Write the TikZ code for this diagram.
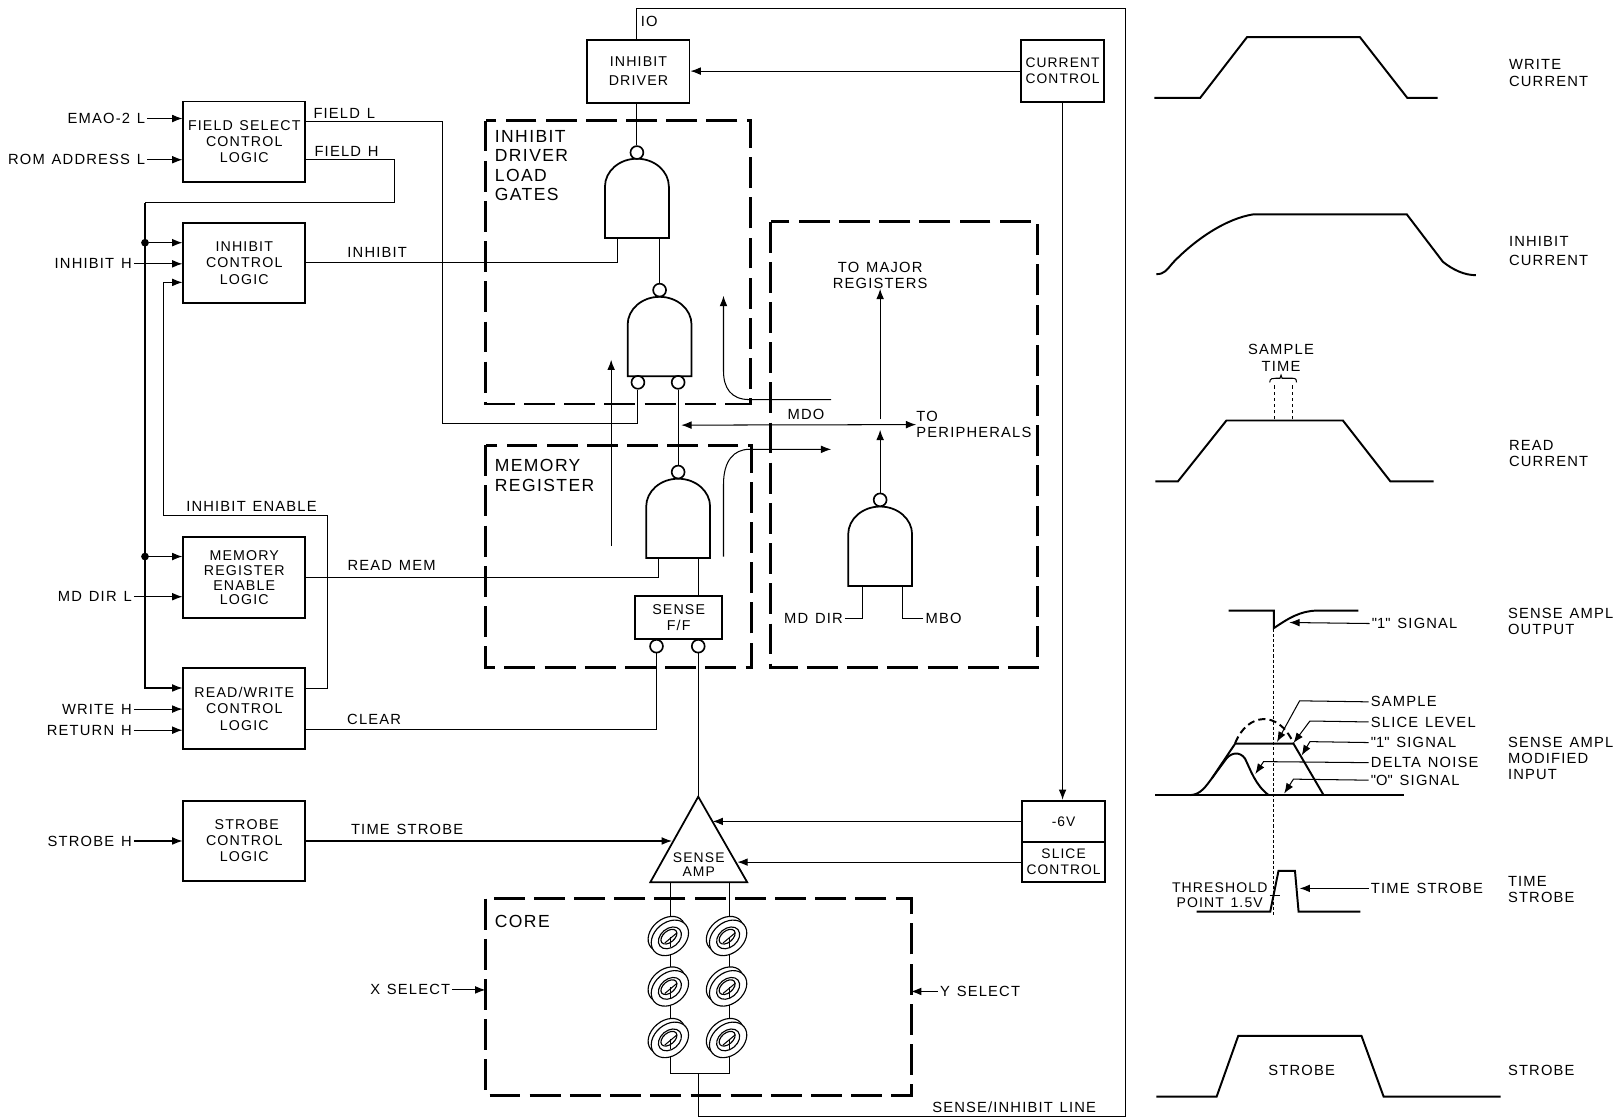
\documentclass[tikz,border=0pt]{standalone}
\usepackage{fontspec}
\setmainfont{Liberation Sans}[LetterSpace=8, WordSpace=1.3]
\newfontfamily\quotefont{Liberation Sans}
\newcommand{\dq}{{\quotefont"}}
\usepackage{tikz}
\usetikzlibrary{arrows.meta, positioning}

\tikzset{
    nandgate/.pic={
        \draw [gateline, fill=white] (-31,0) -- (-31,-50) arc [start angle=180, end angle=360, x radius=31, y radius=27] -- (31,0) -- cycle;
    },
    corering/.pic={
        \draw [ringline, fill=white, rotate=40] (0,-5) ellipse [x radius=20, y radius=14.5];
        \draw [ringline, fill=white, rotate=40] (0,0) ellipse [x radius=20, y radius=15];
        \draw [ringline, fill=white, rotate=40] (0,0) ellipse [x radius=12.5, y radius=9];
        \draw [ringline, rotate=40] (0,-1.5) ellipse [x radius=9, y radius=5.5];
        \draw [wire] (1,-1) -- (1,9);
        \draw [wire] (-5,5) -- (7,-5);
    }
}

\begin{document}
\begin{tikzpicture}[x=1pt, y=-1pt,
    logicbox/.style={rectangle, draw=black, line width=1.9pt, minimum width=118pt, minimum height=78pt, inner sep=0pt, align=center, font=\fontsize{13.8}{15.5}\selectfont},
    ctrlbox/.style={logicbox, minimum width=81pt, font=\fontsize{13.4}{15.5}\selectfont},
    txt/.style={inner sep=2pt, align=left, font=\fontsize{14.3}{15.5}\selectfont},
    bigtxt/.style={inner sep=0pt, anchor=north west, align=left, font=\fontsize{17}{19}\selectfont},
    wire/.style={draw=black, line width=1pt},
    arrow/.style={wire, -{Latex[length=10pt, width=7.5pt]}},
    both/.style={wire, {Latex[length=10pt, width=7.5pt]}-{Latex[length=10pt, width=7.5pt]}},
    gateline/.style={draw=black, line width=1.7pt},
    ringline/.style={draw=black, line width=1.1pt},
    bubble/.style={circle, draw=black, fill=white, line width=1.6pt, minimum size=12.5pt, inner sep=0pt},
    dot/.style={circle, fill=black, minimum size=7.5pt, inner sep=0pt},
    dashbox/.style={draw=black, line width=2.8pt, dash pattern=on 30pt off 9pt},
    wave/.style={draw=black, line width=1.9pt, line join=miter}]

    \useasboundingbox (0,0) rectangle (1568,1086);

    % logic blocks on the left
    \node [logicbox] (fieldsel) at (237,137.5) {FIELD SELECT\\CONTROL\\LOGIC};
    \node [logicbox, below of=fieldsel, node distance=117.5pt] (inhctl) {INHIBIT\\[.5pt]CONTROL\\[.5pt]LOGIC};
    \node [logicbox, below of=inhctl, node distance=305.5pt] (mregen) {MEMORY\\[-1pt]REGISTER\\[-1pt]ENABLE\\[-1pt]LOGIC};
    \node [logicbox, below of=mregen, node distance=127pt] (rwctl) {READ/WRITE\\[.5pt]CONTROL\\[.5pt]LOGIC};
    \node [logicbox, below of=rwctl, node distance=128.5pt] (strobe) {\hspace*{5pt}STROBE\\CONTROL\\LOGIC};

    % inputs
    \node [txt, anchor=east] (emao) at (143,115) {EMAO-2 L};
    \node [txt, anchor=east] (romaddr) at (143,155) {ROM ADDRESS L};
    \node [txt, anchor=east] (inhh) at (130,256) {INHIBIT H};
    \node [txt, anchor=east] (mddirl) at (130,579) {MD DIR L};
    \node [txt, anchor=east] (writeh) at (130,688) {WRITE H};
    \node [txt, anchor=east] (returnh) at (130,708.5) {RETURN H};
    \node [txt, anchor=east] (strobeh) at (130,816) {STROBE H};
    \draw [arrow] (emao) -- (emao -| fieldsel.west);
    \draw [arrow] (romaddr) -- (romaddr -| fieldsel.west);
    \draw [arrow] (inhh) -- (inhh -| inhctl.west);
    \draw [arrow] (mddirl) -- (mddirl -| mregen.west);
    \draw [arrow] (writeh) -- (writeh -| rwctl.west);
    \draw [arrow] (returnh) -- (returnh -| rwctl.west);
    \draw [arrow] (strobeh) -- (strobeh -| strobe.west);

    % driver and control boxes
    \node [logicbox, minimum width=99pt, minimum height=61pt] (inhdrv) at (619.5,69) {INHIBIT\\[2.5pt]DRIVER};
    \node [ctrlbox, minimum height=60pt] (curctl) at (1031,69) {CURRENT\\CONTROL};
    \node [ctrlbox, minimum height=40pt] (minus) at (1032,797) {-6V};
    \node [ctrlbox, minimum height=39pt] (slice) at (1032,836.5) {SLICE\\CONTROL};
    \node [logicbox, minimum width=84pt, minimum height=41.5pt] (sensefl) at (658.5,599.5) {SENSE\\F/F};

    % named turning points
    \coordinate (fieldturn) at (429,411);
    \coordinate (fieldhturn) at (383,196.6);
    \coordinate (bus) at (140.7,196.6);
    \coordinate (enableturn) at (318,500);
    \coordinate (enableleft) at (159,500);
    \coordinate (loopne) at (1092,8);
    \coordinate (loopse) at (1092,1083);
    \coordinate (coreout) at (677.5,1042);
    \coordinate (wirel) at (651,856);
    \coordinate (wirer) at (708,856);
    \coordinate (ampapex) at (677.5,773);
    \coordinate (ampleft) at (631,856);
    \coordinate (ampright) at (725,856);
    \coordinate (ampin) at (652,816);
    \coordinate (amptop) at (691.5,797);
    \coordinate (ampbot) at (715.5,836.5);

    % gates with their bubbles
    \pic at (618,231) {nandgate};
    \pic at (640,365) {nandgate};
    \pic at (658,541.5) {nandgate};
    \pic at (854,568.5) {nandgate};
    \node [bubble] (goneo) at (618,148) {};
    \node [bubble] (gtwoo) at (640,281.5) {};
    \node [bubble] (gtwoa) at (619,371) {};
    \node [bubble] (gtwob) at (658,371) {};
    \node [bubble] (gthreeo) at (658,458) {};
    \node [bubble] (gfouro) at (854,485) {};
    \node [bubble] (ffa) at (637,627) {};
    \node [bubble] (ffb) at (677.5,627) {};
    \coordinate (goneb) at (640,231);
    \coordinate (gonea) at (599,231);
    \coordinate (gthreea) at (639,541.5);
    \coordinate (gthreeb) at (677.5,541.5);
    \coordinate (gfoura) at (836.5,568.5);
    \coordinate (gfourb) at (876,568.5);

    % dashed groups
    \draw [dashbox] (471.5,117) rectangle (728,392);
    \draw [dashbox] (471.5,432) rectangle (729,648);
    \draw [dashbox] (748,215) rectangle (1006.5,648);
    \draw [dashbox] (471,872) rectangle (884,1063);
    \node [bigtxt] (loadlbl) at (480,126) {INHIBIT\\DRIVER\\LOAD\\GATES};
    \node [bigtxt] (mreglbl) at (480,445.5) {MEMORY\\REGISTER};
    \node [bigtxt] (corelbl) at (480,888) {CORE};

    % signal lines
    \draw [wire] (goneo |- inhdrv.north) |- (loopne) -- (loopse) -| (coreout);
    \draw [wire] (inhdrv.south -| goneo) -- (goneo);
    \draw [wire] (goneb) -- (gtwoo);
    \draw [wire] (inhctl.east) -| (gonea);
    \draw [wire] ([yshift=19.5pt]fieldsel.east) -| (fieldturn) -| (gtwoa);
    \draw [wire] ([yshift=-17.5pt]fieldsel.east) -| (fieldhturn) -- (bus);
    \draw [arrow] (bus) |- ([yshift=-20pt]rwctl.north west);
    \draw [arrow] ([yshift=19pt]rwctl.east) -| (enableturn) -- (enableleft) |- ([yshift=-19pt]inhctl.west);
    \draw [wire] (gtwob) -- (gthreeo);
    \draw [wire] (mregen.east) -| (gthreea);
    \draw [wire] (gthreeb) -- (gthreeb |- sensefl.north);
    \draw [wire] (ffa) |- ([yshift=-20pt]rwctl.east);
    \draw [wire] (ffb) -- (ampapex);
    \draw [arrow] (strobe.east) -- (strobe.east -| ampin);
    \draw [arrow] (minus.west) -- (amptop);
    \draw [arrow] (slice.west) -- (ampbot);
    \draw [arrow] (curctl.west) -- (inhdrv.east);
    \draw [arrow] (curctl.south) -- (curctl.south |- minus.north);

    \node [dot] (dota) at (140.7,235.5) {};
    \node [dot] (dotb) at (140.7,540) {};
    \draw [arrow] (dota) -- (dota -| inhctl.west);
    \draw [arrow] (dotb) -- (dotb -| mregen.west);

    % sense amp and core
    \draw [gateline, fill=white, line join=miter] (ampapex) -- (ampright) -- (ampleft) -- cycle;
    \node [txt, align=center, font=\fontsize{13.5}{13.5}\selectfont] (amplbl) at (678,839) {SENSE\\AMP};
    \draw [wire] (wirel) -- (wirel |- coreout) -- (wirer |- coreout) -- (wirer);
    \foreach \ypos in {910,959,1009} {
        \pic at (650,\ypos) {corering};
        \pic at (706.5,\ypos) {corering};
    }

    % free signal runs
    \coordinate (arrowa) at (593,530);
    \coordinate (arrowatip) at (593,349);
    \coordinate (loadend) at (806.5,387.7);
    \coordinate (loadtip) at (702,287);
    \coordinate (mregbot) at (702,540);
    \coordinate (mregend) at (806.5,436);
    \coordinate (mdoleft) at (661,412.5);
    \coordinate (majorbase) at (854,407);
    \coordinate (mdojoin) at (854,417);
    \draw [arrow] (arrowa) -- (arrowatip);
    \draw [arrow] (loadend) -- (727,387.7) .. controls (709,387.7) and (702,376) .. (702,360) -- (loadtip);
    \draw [arrow] (mregbot) -- (702,470) .. controls (702,447) and (712,436) .. (727,436) -- (mregend);
    \node [txt, anchor=west, inner sep=0pt] (periph) at (889,412) {TO\\PERIPHERALS};
    \node [txt] (mdolbl) at (782,402.5) {MDO};
    \draw [both] (mdoleft) -- (periph.west);
    \node [txt, align=center, inner sep=0pt] (major) at (854,267) {TO MAJOR\\[.5pt]REGISTERS};
    \draw [arrow] (majorbase) -- (major.south);
    \draw [arrow] (gfouro) -- (mdojoin);

    \node [txt, anchor=east] (mddirlbl) at (820,600) {MD DIR};
    \node [txt, anchor=west] (mbolbl) at (896,600) {MBO};
    \draw [wire] (mddirlbl.east) -| (gfoura);
    \draw [wire] (mbolbl.west) -| (gfourb);

    \node [txt, anchor=east] (xsel) at (439,960.5) {X SELECT};
    \node [txt, anchor=west] (ysel) at (910,962) {Y SELECT};
    \coordinate (corewest) at (471,960.5);
    \coordinate (coreeast) at (884,962);
    \draw [arrow] (xsel.east) -- (corewest);
    \draw [arrow] (ysel.west) -- (coreeast);

    % labels on the lines
    \node [txt, anchor=west] (fieldl) at (302,110) {FIELD L};
    \node [txt, anchor=west] (fieldh) at (303,147) {FIELD H};
    \node [txt] (inhlbl) at (366,245) {INHIBIT};
    \node [txt] (enablbl) at (244,491) {INHIBIT ENABLE};
    \node [txt] (readlbl) at (380,549) {READ MEM};
    \node [txt] (clearlbl) at (363,698) {CLEAR};
    \node [txt] (tstrobelbl) at (395,805) {TIME STROBE};
    \node [txt] (iolbl) at (630,21) {IO};
    \node [txt] (senselbl) at (984,1074) {SENSE/INHIBIT LINE};

    % waveforms
    \draw [wave] (1120,95) -- (1164.5,95) -- (1210,36) -- (1319.5,36) -- (1365.5,95) -- (1395,95);
    \draw [wave] (1122,266) .. controls (1130,266) and (1132,262) .. (1138,255) .. controls (1160,232) and (1190,212) .. (1216,208) -- (1365,208) -- (1400,254) .. controls (1410,262) and (1421,267) .. (1432,267);
    \draw [wave] (1121,467) -- (1143,467) -- (1190,408) -- (1303,408) -- (1349,467) -- (1391,467);
    \draw [wire, dashed] (1237,407) -- (1237,372);
    \draw [wire, dashed] (1254.5,407) -- (1254.5,372);
    \draw [wire] (1232,371) .. controls (1232,367) and (1235,367) .. (1238,367) -- (1242,367) -- (1243,364) -- (1244,367) -- (1254,367) .. controls (1258,367) and (1258,369) .. (1258,371);
    \draw [wave] (1192,592.5) -- (1236,592.5) -- (1236,609.5) .. controls (1250,600) and (1262,592.5) .. (1278,592.5) -- (1318,592.5);
    \draw [wave] (1121,771.5) -- (1362,771.5);
    \draw [wave] (1176,755) -- (1198.5,721.5) -- (1255,721.5) -- (1284,771);
    \draw [wave] (1155,771.5) .. controls (1165,771) and (1170,763) .. (1176,755) -- (1190,736) .. controls (1195,730) and (1203,729) .. (1208,736) .. controls (1213,746) and (1218,762) .. (1231,771.5);
    \draw [wave, dash pattern=on 7pt off 4pt] (1198.5,721) .. controls (1210,692) and (1240,688) .. (1255,721);
    \draw [wave] (1161,884.5) -- (1232.5,884.5) -- (1240.5,845) -- (1256.5,845) -- (1260,884.5) -- (1320,884.5);
    \draw [wave] (1122,1064) -- (1180.5,1064) -- (1201.5,1005) -- (1321,1005) -- (1342.5,1064) -- (1456,1064);
    \coordinate (dropa) at (1236,610);
    \coordinate (dropb) at (1236,888);
    \draw [wire, densely dashed, line width=0.8pt] (dropa) -- (dropb);
    \coordinate (thresh) at (1232,869);
    \draw [wire, line width=0.6pt] (thresh) -- (1242,869);

    % labels beside the waveforms
    \node [txt, align=center] (samplelbl) at (1243,347) {SAMPLE\\[.5pt]TIME};
    \node [txt] (stroblbl) at (1263,1039) {STROBE};
    \node [txt, anchor=west] (onesig) at (1329,605) {\dq 1\dq\ SIGNAL};
    \node [txt, anchor=west] (sample) at (1328,681) {SAMPLE};
    \node [txt, anchor=west] (slicelv) at (1328,700.5) {SLICE LEVEL};
    \node [txt, anchor=west] (onesigb) at (1328,720.5) {\dq 1\dq\ SIGNAL};
    \node [txt, anchor=west] (delta) at (1328,740) {DELTA NOISE};
    \node [txt, anchor=west] (zerosig) at (1328,757) {\dq O\dq\ SIGNAL};
    \node [txt, anchor=west] (tstrobe) at (1328,862) {TIME STROBE};
    \node [txt, anchor=east, align=center, inner sep=0pt, font=\fontsize{13.6}{14.5}\selectfont] (threshlbl) at (1230,869) {THRESHOLD\\POINT 1.5V};

    \coordinate (samplebend) at (1261,680);
    \coordinate (slicebend) at (1271,699.6);
    \coordinate (onebend) at (1271,719.6);
    \coordinate (deltabend) at (1226,739);
    \coordinate (zerobend) at (1255,756);
    \draw [arrow] (onesig.west) -- (1251,604);
    \draw [arrow] (sample.west) -- (samplebend) -- (1239,720);
    \draw [arrow] (slicelv.west) -- (slicebend) -- (1255,721);
    \draw [arrow] (onesigb.west) -- (onebend) -- (1263,733);
    \draw [arrow] (delta.west) -- (deltabend) -- (1218,751);
    \draw [arrow] (zerosig.west) -- (zerobend) -- (1246,770);
    \draw [arrow] (tstrobe.west) -- (1261,862);

    \node [txt, anchor=west] (writelbl) at (1462,71) {WRITE\\[.5pt]CURRENT};
    \node [txt, anchor=west] (inhiblbl) at (1462,243.5) {INHIBIT\\[3pt]CURRENT};
    \node [txt, anchor=west] (readcur) at (1462,440.5) {READ\\CURRENT};
    \node [txt, anchor=west] (sampout) at (1461,603) {SENSE AMPL\\OUTPUT};
    \node [txt, anchor=west] (sampin) at (1461,736) {SENSE AMPL\\MODIFIED\\INPUT};
    \node [txt, anchor=west] (timestr) at (1461,863) {TIME\\STROBE};
    \node [txt, anchor=west] (strobelb) at (1461,1039) {STROBE};

\end{tikzpicture}
\end{document}
